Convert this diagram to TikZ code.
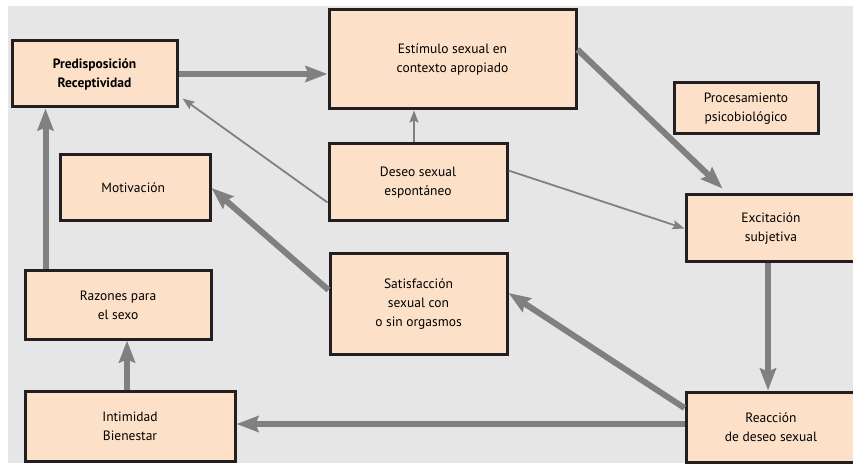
\documentclass[tikz,border=0pt]{standalone}
\usepackage{fontspec}
\setmainfont{PT Sans}
\usepackage{xcolor}
\usepackage{tikz}
\usetikzlibrary{
  arrows.meta,
  positioning,
  calc
}
\definecolor{BoxFill}{HTML}{FCE1C8}
\definecolor{BoxLine}{HTML}{231F20}
\definecolor{PanelGray}{HTML}{E6E6E6}
\definecolor{ArrowGray}{HTML}{808080}
\tikzset{
  box/.style={
    draw=BoxLine,
    fill=BoxFill,
    line width=3pt,
    align=center,
    font=\fontsize{13.5}{19}\selectfont,
    inner sep=0pt
  },
  strong/.style={
    -{Stealth[length=22pt,width=16pt,inset=3pt]},
    draw=ArrowGray,
    line width=6pt
  },
  weak/.style={
    -{Stealth[length=12pt,width=9pt,inset=2pt]},
    draw=ArrowGray,
    line width=1.8pt
  }
}
\begin{document}
\begin{tikzpicture}[x=1pt,y=1pt]

  \useasboundingbox (0,0) rectangle (853,466);
  \fill[PanelGray] (8,3) rectangle (853,460);

  \begin{scope}
  \clip (0,0) rectangle (853,466);

  \node[
    box,
    minimum width=165pt,
    minimum height=66pt,
    font=\fontsize{13.5}{19}\selectfont\bfseries
  ] (pred) at (94.5,392) {
    Predisposición\\Receptividad
  };

  \node[
    box,
    minimum width=247pt,
    minimum height=99pt
  ] (estimulo) at (452.5,406.5) {
    Estímulo sexual en\\contexto apropiado
  };

  \node[
    box,
    minimum width=144pt,
    minimum height=51pt
  ] (proc) at (746,357.5) {
    Procesamiento\\psicobiológico
  };

  \node[
    box,
    minimum width=178pt,
    minimum height=77pt,
    below=32pt of estimulo.south west,
    anchor=north west
  ] (deseo) {
    Deseo sexual\\espontáneo
  };

  \node[
    box,
    minimum width=150pt,
    minimum height=66pt
  ] (motiv) at (135,278) {
    Motivación
  };

  \node[
    box,
    minimum width=170pt,
    minimum height=67pt
  ] (excit) at (771,237.5) {
    Excitación\\subjetiva
  };

  \node[
    box,
    minimum width=186pt,
    minimum height=68pt
  ] (razones) at (118,161) {
    Razones para\\el sexo
  };

  \node[
    box,
    minimum width=177pt,
    minimum height=100pt
  ] (satisf) at (418.5,162) {
    Satisfacción\\sexual con\\o sin orgasmos
  };

  \node[
    box,
    minimum width=210pt,
    minimum height=70pt,
    below=49pt of razones.south west,
    anchor=north west
  ] (intim) {
    Intimidad\\Bienestar
  };

  \node[
    box,
    minimum width=170pt,
    minimum height=70pt,
    below=127pt of excit.south west,
    anchor=north west
  ] (reacc) {
    Reacción\\de deseo sexual
  };

  \end{scope}

  \draw[strong]
  (pred.east) --
  (pred.east -| estimulo.west);

  \draw[weak]
  ([yshift=-20pt]deseo.west) --
  ([shift={(4pt,10pt)}]pred.south east);

  \draw[weak]
  ([xshift=-4pt]deseo.north) --
  ([xshift=-4pt]deseo.north |- estimulo.south);

  \draw[weak]
  ([yshift=12pt]deseo.east) --
  (excit.west);

  \draw[strong]
  ([yshift=10pt]estimulo.east) --
  ([shift={(38pt,5pt)}]excit.north west);

  \draw[strong]
  ([xshift=-3pt]excit.south) --
  ([xshift=-3pt]reacc.north);

  \draw[strong]
  ([yshift=19pt]reacc.west) --
  ([yshift=11pt]satisf.east);

  \draw[strong]
  ([yshift=3pt]reacc.west) --
  ([yshift=3pt]reacc.west -| intim.east);

  \draw[strong]
  ([yshift=14pt]satisf.west) --
  (motiv.east);

  \draw[strong]
  ([xshift=-3pt]intim.north) --
  ([xshift=-3pt]intim.north |- razones.south);

  \draw[strong]
  ([xshift=22pt]razones.north west) --
  ([xshift=35pt]pred.south west);

\end{tikzpicture}
\end{document}
